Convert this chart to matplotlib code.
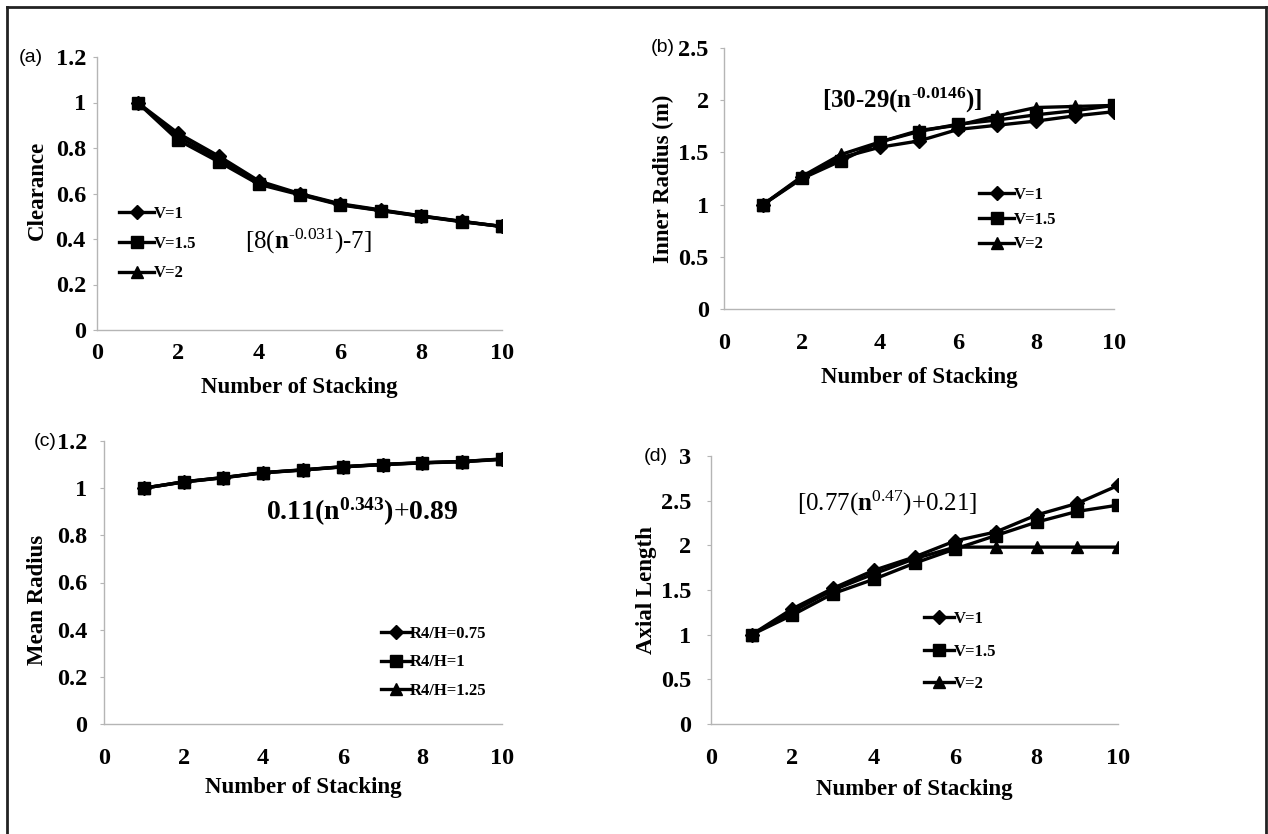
import matplotlib
matplotlib.use("Agg")
import matplotlib.pyplot as plt
from matplotlib.lines import Line2D

plt.rcParams["mathtext.fontset"] = "custom"
plt.rcParams["mathtext.rm"] = "Liberation Serif"
plt.rcParams["mathtext.bf"] = "Liberation Serif:bold"
plt.rcParams["mathtext.it"] = "Liberation Serif:italic"

SERIF = "Liberation Serif"
SANS = "Liberation Sans"

n = [1, 2, 3, 4, 5, 6, 7, 8, 9, 10]

# (a) clearance
clear_v1 = [1.00, 0.865, 0.765, 0.655, 0.60, 0.555, 0.528, 0.502, 0.478, 0.455]
clear_v15 = [1.00, 0.835, 0.740, 0.640, 0.595, 0.550, 0.525, 0.500, 0.476, 0.455]
clear_v2 = [1.00, 0.850, 0.752, 0.648, 0.598, 0.552, 0.526, 0.501, 0.477, 0.455]

# (b) inner radius
inner_v1 = [1.00, 1.26, 1.45, 1.55, 1.61, 1.72, 1.76, 1.80, 1.85, 1.89]
inner_v15 = [1.00, 1.25, 1.42, 1.60, 1.70, 1.77, 1.81, 1.86, 1.90, 1.95]
inner_v2 = [1.00, 1.27, 1.48, 1.60, 1.71, 1.76, 1.85, 1.93, 1.94, 1.95]

# (c) mean radius
mean_r075 = [1.00, 1.027, 1.045, 1.066, 1.077, 1.091, 1.100, 1.108, 1.113, 1.123]
mean_r1 = [1.00, 1.026, 1.044, 1.065, 1.077, 1.090, 1.100, 1.107, 1.112, 1.122]
mean_r125 = [1.00, 1.027, 1.045, 1.066, 1.078, 1.091, 1.101, 1.108, 1.113, 1.124]

# (d) axial length
axial_v1 = [1.00, 1.29, 1.52, 1.72, 1.87, 2.05, 2.15, 2.34, 2.47, 2.67]
axial_v15 = [1.00, 1.22, 1.46, 1.62, 1.80, 1.96, 2.11, 2.26, 2.38, 2.45]
axial_v2 = [1.00, 1.26, 1.50, 1.68, 1.85, 1.98, 1.98, 1.98, 1.98, 1.98]

v_labels = ["V=1", "V=1.5", "V=2"]
r_labels = ["R4/H=0.75", "R4/H=1", "R4/H=1.25"]
markers = ["D", "s", "^"]
msizes = [7, 9, 9]

W, H = 1268, 834
fig = plt.figure(figsize=(W / 100, H / 100), dpi=100)


def px(x, y):
    """Pixel position (from top-left) to figure fraction."""
    return x / W, 1 - y / H


def rect_px(x0, x1, y_top, y_bot):
    return [x0 / W, 1 - y_bot / H, (x1 - x0) / W, (y_bot - y_top) / H]


panels = [
    dict(rect=rect_px(97, 502, 57, 330), series=[clear_v1, clear_v15, clear_v2],
         labels=v_labels, ylim=(0, 1.2), yticks=[0, 0.2, 0.4, 0.6, 0.8, 1, 1.2],
         ylabel="Clearance", ylab_xy=(-0.146, 0.51), xlab_y=-0.212,
         xpad=9.5, ypad=5,
         tag="(a)", tag_px=(19, 57),
         eq=r"$[8(\mathbf{n}^{\text{-}0.031})\text{-}7]$", eq_xy=(5.23, 0.39), eq_size=18,
         leg_px=(119, 206), leg_hl=2.1, leg_sp=0.82),
    dict(rect=rect_px(724, 1114, 48, 309), series=[inner_v1, inner_v15, inner_v2],
         labels=v_labels, ylim=(0, 2.5), yticks=[0, 0.5, 1, 1.5, 2, 2.5],
         ylabel="Inner Radius (m)", ylab_xy=(-0.156, 0.50), xlab_y=-0.264,
         xpad=17.5, ypad=8,
         tag="(b)", tag_px=(651, 48),
         eq=r"$\mathbf{[30\text{-}29(n}^{\mathbf{\text{-}0.0146}}\mathbf{)]}$", eq_xy=(4.56, 2.0), eq_size=18,
         leg_px=(979, 187), leg_hl=2.1, leg_sp=0.52),
    dict(rect=rect_px(104, 502, 441, 724), series=[mean_r075, mean_r1, mean_r125],
         labels=r_labels, ylim=(0, 1.2), yticks=[0, 0.2, 0.4, 0.6, 0.8, 1, 1.2],
         ylabel="Mean Radius", ylab_xy=(-0.166, 0.44), xlab_y=-0.226,
         xpad=17.5, ypad=9,
         tag="(c)", tag_px=(34, 441),
         eq=r"$\mathbf{0.11(n}^{\mathbf{0.343}}\mathbf{)\text{+}0.89}$", eq_xy=(6.48, 0.90), eq_size=20,
         leg_px=(381, 626), leg_hl=1.75, leg_sp=0.75),
    dict(rect=rect_px(711, 1118, 456, 724), series=[axial_v1, axial_v15, axial_v2],
         labels=v_labels, ylim=(0, 3), yticks=[0, 0.5, 1, 1.5, 2, 2.5, 3],
         ylabel="Axial Length", ylab_xy=(-0.158, 0.50), xlab_y=-0.246,
         xpad=17.5, ypad=11,
         tag="(d)", tag_px=(644, 456),
         eq=r"$[0.77(\mathbf{n}^{0.47})\text{+}0.21]$", eq_xy=(4.32, 2.47), eq_size=18,
         leg_px=(924, 611), leg_hl=1.8, leg_sp=1.0),
]

for p in panels:
    ax = fig.add_axes(p["rect"])
    handles = []
    for vals, lab, mk, ms in zip(p["series"], p["labels"], markers, msizes):
        h, = ax.plot(n, vals, color="black", lw=2.4, marker=mk, ms=ms,
                     markeredgecolor="black", markerfacecolor="black", label=lab)
        handles.append(h)
    ax.set_xlim(0, 10)
    ax.set_ylim(*p["ylim"])
    ax.set_xticks([0, 2, 4, 6, 8, 10])
    ax.set_yticks(p["yticks"])
    ax.set_yticklabels([f"{t:g}" for t in p["yticks"]])
    for s in ["top", "right"]:
        ax.spines[s].set_visible(False)
    for s in ["left", "bottom"]:
        ax.spines[s].set_color("#b5b5b5")
        ax.spines[s].set_linewidth(1.0)
    ax.tick_params(axis="x", length=0, pad=p["xpad"])
    ax.tick_params(axis="y", length=3, color="#b5b5b5", pad=p["ypad"])
    for lbl in ax.get_xticklabels() + ax.get_yticklabels():
        lbl.set_fontfamily(SERIF)
        lbl.set_fontweight("bold")
        lbl.set_fontsize(17.5)
    ax.set_xlabel("Number of Stacking", fontfamily=SERIF, fontweight="bold", fontsize=16.5)
    ax.set_ylabel(p["ylabel"], fontfamily=SERIF, fontweight="bold", fontsize=16.5)
    ax.xaxis.set_label_coords(0.5, p["xlab_y"])
    ax.yaxis.set_label_coords(*p["ylab_xy"])
    ax.xaxis.label.set_va("center")
    ax.yaxis.label.set_va("center")
    ax.text(p["eq_xy"][0], p["eq_xy"][1], p["eq"], ha="center", va="center",
            fontsize=p["eq_size"], color="black")
    fig.text(*px(*p["tag_px"]), p["tag"], ha="left", va="center",
             fontfamily=SANS, fontsize=14)
    ax.legend(handles=handles, loc="upper left", bbox_to_anchor=px(*p["leg_px"]),
              bbox_transform=fig.transFigure,
              frameon=False, handlelength=p["leg_hl"], handletextpad=0.0,
              labelspacing=p["leg_sp"], borderaxespad=0.0, borderpad=0.0,
              prop=dict(family=SERIF, weight="bold", size=12))

# outer frame: left, top and right edges
frame_kw = dict(color="#222222", lw=2.0, transform=fig.transFigure)
fig.add_artist(Line2D([6.5 / W, 6.5 / W], [0.0, 1 - 6.5 / H], **frame_kw))
fig.add_artist(Line2D([6.5 / W, 1265.5 / W], [1 - 6.5 / H, 1 - 6.5 / H], **frame_kw))
fig.add_artist(Line2D([1265.5 / W, 1265.5 / W], [0.0, 1 - 6.5 / H], **frame_kw))

fig.savefig("out.png", dpi=100, facecolor="white")
